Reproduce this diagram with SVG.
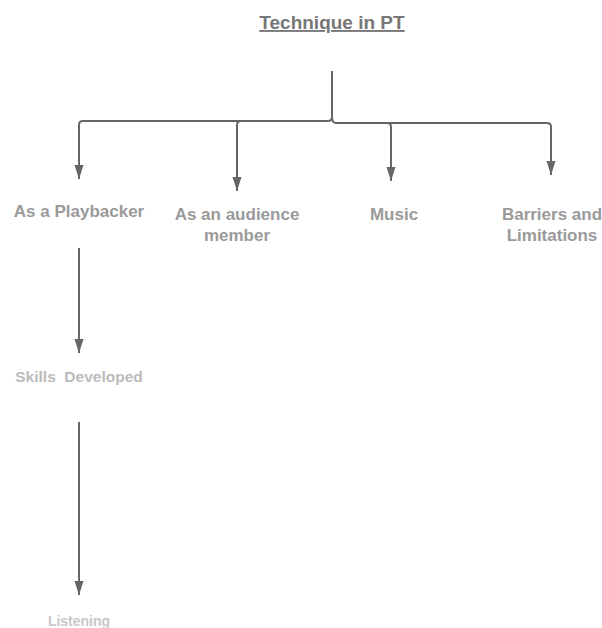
<svg xmlns="http://www.w3.org/2000/svg" width="602" height="628" viewBox="0 0 602 628">
<style>
text{font-family:"Liberation Sans",Arial,sans-serif;font-weight:bold;text-anchor:middle}
.l1{font-size:17px;fill:#9a9a9a}
.conn path{fill:none;stroke:#666;stroke-width:2}
</style>
<defs>
<marker id="ah" markerUnits="userSpaceOnUse" markerWidth="14" markerHeight="10" refX="14" refY="5" orient="auto">
<path d="M0,0.5 L14,5 L0,9.5 z" fill="#666"/>
</marker>
</defs>
<rect width="602" height="628" fill="#fff"/>
<g id="title">
<text x="332" y="29" style="font-size:19px;fill:#777;text-decoration:underline">Technique in PT</text>
</g>
<g class="conn" id="connectors">
<path d="M332,71 V117 Q332,121 328,121 H83 Q79,121 79,125 V179" marker-end="url(#ah)"/>
<path d="M241,121 Q237,121 237,125 V191" marker-end="url(#ah)"/>
<path d="M332,117 Q332,123 336,123 H547 Q551,123 551,127 V175" marker-end="url(#ah)"/>
<path d="M387,123 Q391,123 391,127 V181" marker-end="url(#ah)"/>
<path d="M79,248 V353" marker-end="url(#ah)"/>
<path d="M79,422 V595" marker-end="url(#ah)"/>
</g>
<g id="playbacker"><text class="l1" x="79" y="217">As a Playbacker</text></g>
<g id="audience"><text class="l1" x="237" y="220">As an audience</text><text class="l1" x="237" y="241">member</text></g>
<g id="music"><text class="l1" x="394" y="220">Music</text></g>
<g id="barriers"><text class="l1" x="552" y="220">Barriers and</text><text class="l1" x="552" y="241">Limitations</text></g>
<g id="skills"><text x="79" y="382" xml:space="preserve" style="font-size:15.5px;fill:#bbb">Skills  Developed</text></g>
<g id="listening"><text x="79" y="626" style="font-size:14px;fill:#c8c8c8">Listening</text></g>
</svg>
